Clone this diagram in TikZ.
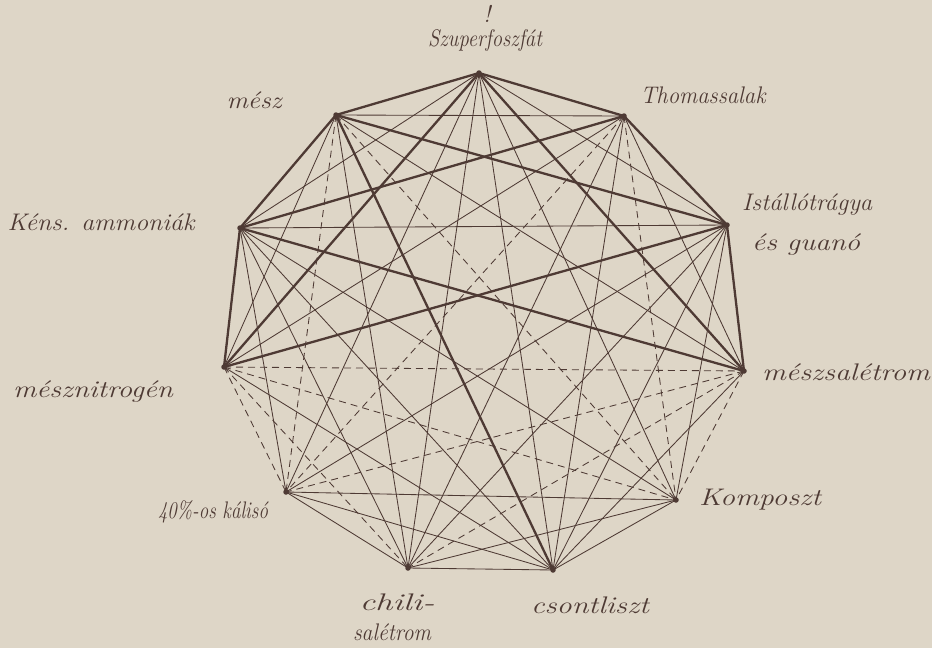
\documentclass[tikz,border=0pt]{standalone}
\usepackage{fontspec}
\usepackage{graphicx}
\definecolor{paper}{RGB}{222,214,199}
\definecolor{ink}{RGB}{78,58,52}
\newsavebox{\hwbox}
\newcommand{\hw}[2]{\sbox{\hwbox}{#2}\scalebox{\fpeval{#1/(\the\wd\hwbox)}}[1]{\usebox{\hwbox}}}
\tikzset{
  thickedge/.style={draw=ink,line width=2.3pt,line cap=round},
  thinedge/.style={draw=ink,line width=0.85pt,line cap=round},
  dashedge/.style={draw=ink,line width=0.85pt,dash pattern=on 7pt off 5pt},
  vdot/.style={circle,fill=ink,inner sep=0pt,minimum size=5.5pt},
  lab/.style={text=ink,inner sep=0pt,font=\fontsize{24}{26}\selectfont\itshape}
}
\begin{document}
\begin{tikzpicture}[x=1pt,y=-1pt]
\fill[paper] (0,0) rectangle (932,648);
\useasboundingbox (0,0) rectangle (932,648);
% vertices
\coordinate (A) at (479,73);
\coordinate (B) at (624,116);
\coordinate (C) at (727,225);
\coordinate (D) at (744,371);
\coordinate (E) at (676,500);
\coordinate (F) at (553,570);
\coordinate (G) at (408,568);
\coordinate (H) at (286,492);
\coordinate (I) at (224,367);
\coordinate (J) at (240,228);
\coordinate (K) at (336,115);
% thin edges
\foreach \p/\q in {A/C,A/E,A/F,A/G,A/H,A/J,B/D,B/F,B/G,B/I,B/K,C/E,C/F,C/G,C/H,C/J,D/F,D/K,E/F,E/G,E/H,E/J,F/G,F/H,F/I,F/J,G/H,G/J,G/K,H/J,I/K}
  \draw[thinedge] (\p) -- (\q);
% dashed edges
\foreach \p/\q in {I/D,I/E,I/G,I/H,D/H,D/G,D/E,K/H,B/H,K/E,B/E}
  \draw[dashedge] (\p) -- (\q);
% thick edges
\foreach \p/\q in {A/B,A/K,A/I,A/D,B/C,B/J,C/D,C/I,C/K,D/J,I/J,J/K,K/F}
  \draw[thickedge] (\p) -- (\q);
% dots
\foreach \v in {A,B,C,D,E,F,G,H,I,J,K}
  \node[vdot] (d\v) at (\v) {};
% labels
\node[lab] (tA0) at (487,14) {!};
\node[lab] (tA) at (485,40) {\hw{114}{Szuperfoszfát}};
\node[lab] (tB) at (703,95) {\hw{125}{Thomassalak}};
\node[lab,anchor=west] (tC1) at (742,205) {\hw{130}{Istállótrágya}};
\node[lab,anchor=west] (tC2) at (752,245) {\hw{108}{és guanó}};
\node[lab] (tD) at (846,372) {\hw{168}{mészsalétrom}};
\node[lab] (tE) at (760,500) {\hw{122}{Komposzt}};
\node[lab] (tF) at (590,605) {\hw{118}{csontliszt}};
\node[lab] (tG1) at (397,602) {\hw{75}{chili-}};
\node[lab] (tG2) at (392,632) {\hw{78}{salétrom}};
\node[lab] (tH) at (213,512) {\hw{110}{40\%-os kálisó}};
\node[lab] (tI) at (93,392) {\hw{160}{mésznitrogén}};
\node[lab] (tJ) at (101,222) {\hw{187}{Kéns. ammoniák}};
\node[lab] (tK) at (254,100) {\hw{55}{mész}};
\end{tikzpicture}
\end{document}
